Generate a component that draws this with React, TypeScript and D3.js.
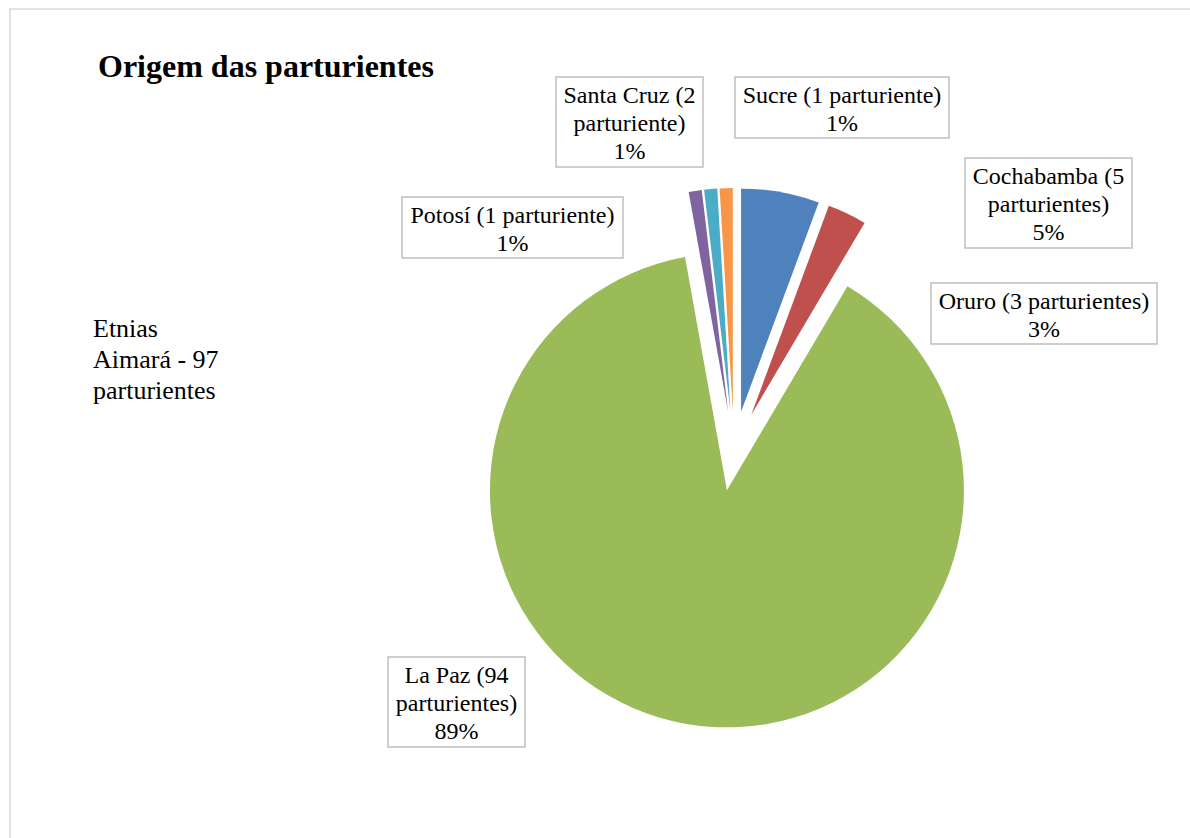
import React from "react";
import * as d3 from "d3";

const categories = ["Cochabamba", "Oruro", "La Paz", "Potosí", "Santa Cruz", "Sucre"];
const values = [6, 3, 94, 1, 1, 1];
const labelLines = [
  ["Cochabamba (5", "parturientes)", "5%"],
  ["Oruro (3 parturientes)", "3%"],
  ["La Paz (94", "parturientes)", "89%"],
  ["Potosí (1 parturiente)", "1%"],
  ["Santa Cruz (2", "parturiente)", "1%"],
  ["Sucre (1 parturiente)", "1%"],
];
const colors = ["#4F81BD", "#C0504D", "#9BBB59", "#8064A2", "#4BACC6", "#F79646"];
const title = "Origem das parturientes";
const sideNote = ["Etnias", "Aimará - 97", "parturientes"];

// layout constants
const W = 1190;
const H = 838;
const CX = 734;
const CY = 451;
const EXPLODE = 40;
const R_MAIN = 237;
const R_SMALL = 223;
const boxes = [
  { x: 965, y: 158, w: 167 },
  { x: 931, y: 283, w: 226 },
  { x: 388, y: 657, w: 137 },
  { x: 402, y: 197, w: 221 },
  { x: 556, y: 77, w: 147 },
  { x: 735, y: 77, w: 214 },
];
const FONT = "'Liberation Serif', 'Times New Roman', serif";
const LINE_H = 28;

export default function App() {
  const pie = d3
    .pie<number>()
    .sort(null)
    .value((d) => d)
    .startAngle(0)
    .endAngle(2 * Math.PI);
  const arcs = pie(values);

  return (
    <svg
      width={W}
      height={H}
      style={{ position: "absolute", left: 0, top: 0, background: "#fff" }}
    >
      <rect x={10} y={9} width={W + 20} height={H + 20} fill="#fff" stroke="#d9d9d9" strokeWidth={1.5} />
      <text x={98} y={77} fontFamily={FONT} fontWeight="bold" fontSize={32} fill="#000">
        {title}
      </text>
      {sideNote.map((t, i) => (
        <text key={i} x={93} y={337 + i * 31} fontFamily={FONT} fontSize={26} fill="#000">
          {t}
        </text>
      ))}
      {arcs.map((a, i) => {
        const mid = (a.startAngle + a.endAngle) / 2;
        const r = values[i] === d3.max(values) ? R_MAIN : R_SMALL;
        const arcGen = d3.arc<any>().innerRadius(0).outerRadius(r);
        const tx = CX + EXPLODE * Math.sin(mid);
        const ty = CY - EXPLODE * Math.cos(mid);
        return (
          <path
            key={categories[i]}
            d={arcGen(a) || ""}
            transform={`translate(${tx},${ty})`}
            fill={colors[i]}
          />
        );
      })}
      {boxes.map((b, i) => {
        const lines = labelLines[i];
        const h = lines.length * 29 + 3;
        return (
          <g key={i}>
            <rect x={b.x} y={b.y} width={b.w} height={h} fill="#fff" stroke="#bfbfbf" strokeWidth={1.5} />
            {lines.map((t, j) => (
              <text
                key={j}
                x={b.x + b.w / 2}
                y={b.y + 26 + j * LINE_H}
                textAnchor="middle"
                fontFamily={FONT}
                fontSize={24}
                fill="#000"
              >
                {t}
              </text>
            ))}
          </g>
        );
      })}
    </svg>
  );
}
